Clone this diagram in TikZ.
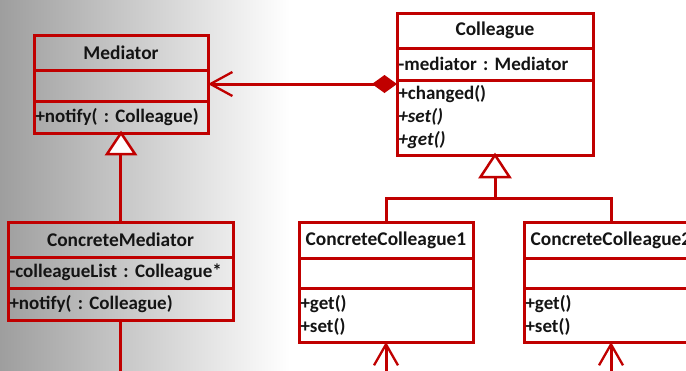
\documentclass[tikz,border=0pt]{standalone}
\usepackage{fontspec}
\setmainfont{Carlito}
\usetikzlibrary{arrows.meta,calc}
\definecolor{umlred}{RGB}{192,0,0}
\definecolor{umltext}{RGB}{20,20,20}
\frenchspacing
% keep one compartment line on one line
\newcommand\oneline[1]{\mbox{#1}}
\begin{document}
\begin{tikzpicture}[x=1pt,y=-1pt,
  part/.style={draw=umlred, line width=3pt, rectangle, inner xsep=1.5pt,
    inner ysep=0pt, outer sep=0pt, anchor=north west, text=umltext,
    font=\bfseries\fontsize{19}{23}\selectfont},
  title/.style={part, align=center, font=\bfseries\fontsize{19.4}{23}\selectfont},
  body/.style={part, align=left},
  w174/.style={minimum width=174pt, text width=171pt},
  w196/.style={minimum width=196pt, text width=193pt},
  w225/.style={minimum width=225pt, text width=222pt},
  link/.style={draw=umlred, line width=3pt},
  inherit/.style={draw=umlred, line width=2.5pt, fill=white, line join=miter},
  navarrow/.style={link, -{Straight Barb[length=21pt, width=24pt, line width=2.3pt]}},
]
\useasboundingbox (0,0) rectangle (686,370);
\clip (0,0) rectangle (686,370);

% background: grey on the left fading to white
\fill[white] (0,0) rectangle (686,370);
\shade[left color=black!38, right color=white] (0,0) rectangle (290,370);

% Mediator
\node[title, w174, minimum height=35pt] (medN) at (34,35) {Mediator};
\node[body, w174, minimum height=31pt] (medA) at (medN.south west) {};
\node[body, w174, minimum height=32pt] (medO) at (medA.south west) {\oneline{+notify( : Colleague)}};

% Colleague
\node[title, w196, minimum height=35pt, fill=white] (colN) at (397,13) {Colleague};
\node[body, w196, minimum height=32pt, fill=white] (colA) at (colN.south west) {\oneline{-mediator : Mediator}};
\node[body, w196, minimum height=75pt, fill=white] (colO) at (colA.south west)
  {+changed()\\\textit{+set()}\\\textit{+get()}};

% ConcreteMediator
\node[title, w225, minimum height=35pt] (cmN) at (8,222) {ConcreteMediator};
\node[body, w225, minimum height=31pt] (cmA) at (cmN.south west) {\oneline{-colleagueList : Colleague*}};
\node[body, w225, minimum height=32pt] (cmO) at (cmA.south west) {\oneline{+notify( : Colleague)}};

% ConcreteColleague1
\node[title, w174, minimum height=36pt, fill=white] (c1N) at (299,222) {ConcreteColleague1};
\node[body, w174, minimum height=30pt, fill=white] (c1A) at (c1N.south west) {};
\node[body, w174, minimum height=54pt, fill=white] (c1O) at (c1A.south west) {+get()\\+set()};

% ConcreteColleague2
\node[title, w174, minimum height=36pt, fill=white] (c2N) at (524,222) {\oneline{ConcreteColleague2}};
\node[body, w174, minimum height=30pt, fill=white] (c2A) at (c2N.south west) {};
\node[body, w174, minimum height=54pt, fill=white] (c2O) at (c2A.south west) {+get()\\+set()};

% composition: Colleague holds a Mediator
\coordinate (agg) at (397,84);
\draw[link, {Diamond[length=25pt, width=18pt]}-{Straight Barb[length=22pt, width=24pt, line width=2.3pt]}]
  (agg) -- (medA.east |- agg);

% ConcreteMediator generalises Mediator
\coordinate (medTri) at ($(medO.south)+(0,21)$);
\draw[link] (cmN.north) -- (cmN.north |- medTri);
\draw[inherit] (medO.south) -- ++(-14,21) -- ++(28,0) -- cycle;

% concrete colleagues generalise Colleague
\coordinate (colTri) at ($(colO.south)+(0,22)$);
\coordinate (fork) at ($(colTri)+(0,21)$);
\draw[link] (colTri) -- (fork);
\draw[link, line join=miter] (c1N.north) |- (fork) -| (c2N.north);
\draw[inherit] (colO.south) -- ++(-14.5,22) -- ++(29,0) -- cycle;

% links leaving the bottom edge
\coordinate (cmOut) at (cmO.south |- 0,372);
\coordinate (c1In) at (c1O.south |- 0,372);
\coordinate (c2In) at (c2O.south |- 0,372);
\draw[link] (cmO.south) -- (cmOut);
\draw[navarrow] (c1In) -- (c1O.south);
\draw[navarrow] (c2In) -- (c2O.south);
\end{tikzpicture}
\end{document}
